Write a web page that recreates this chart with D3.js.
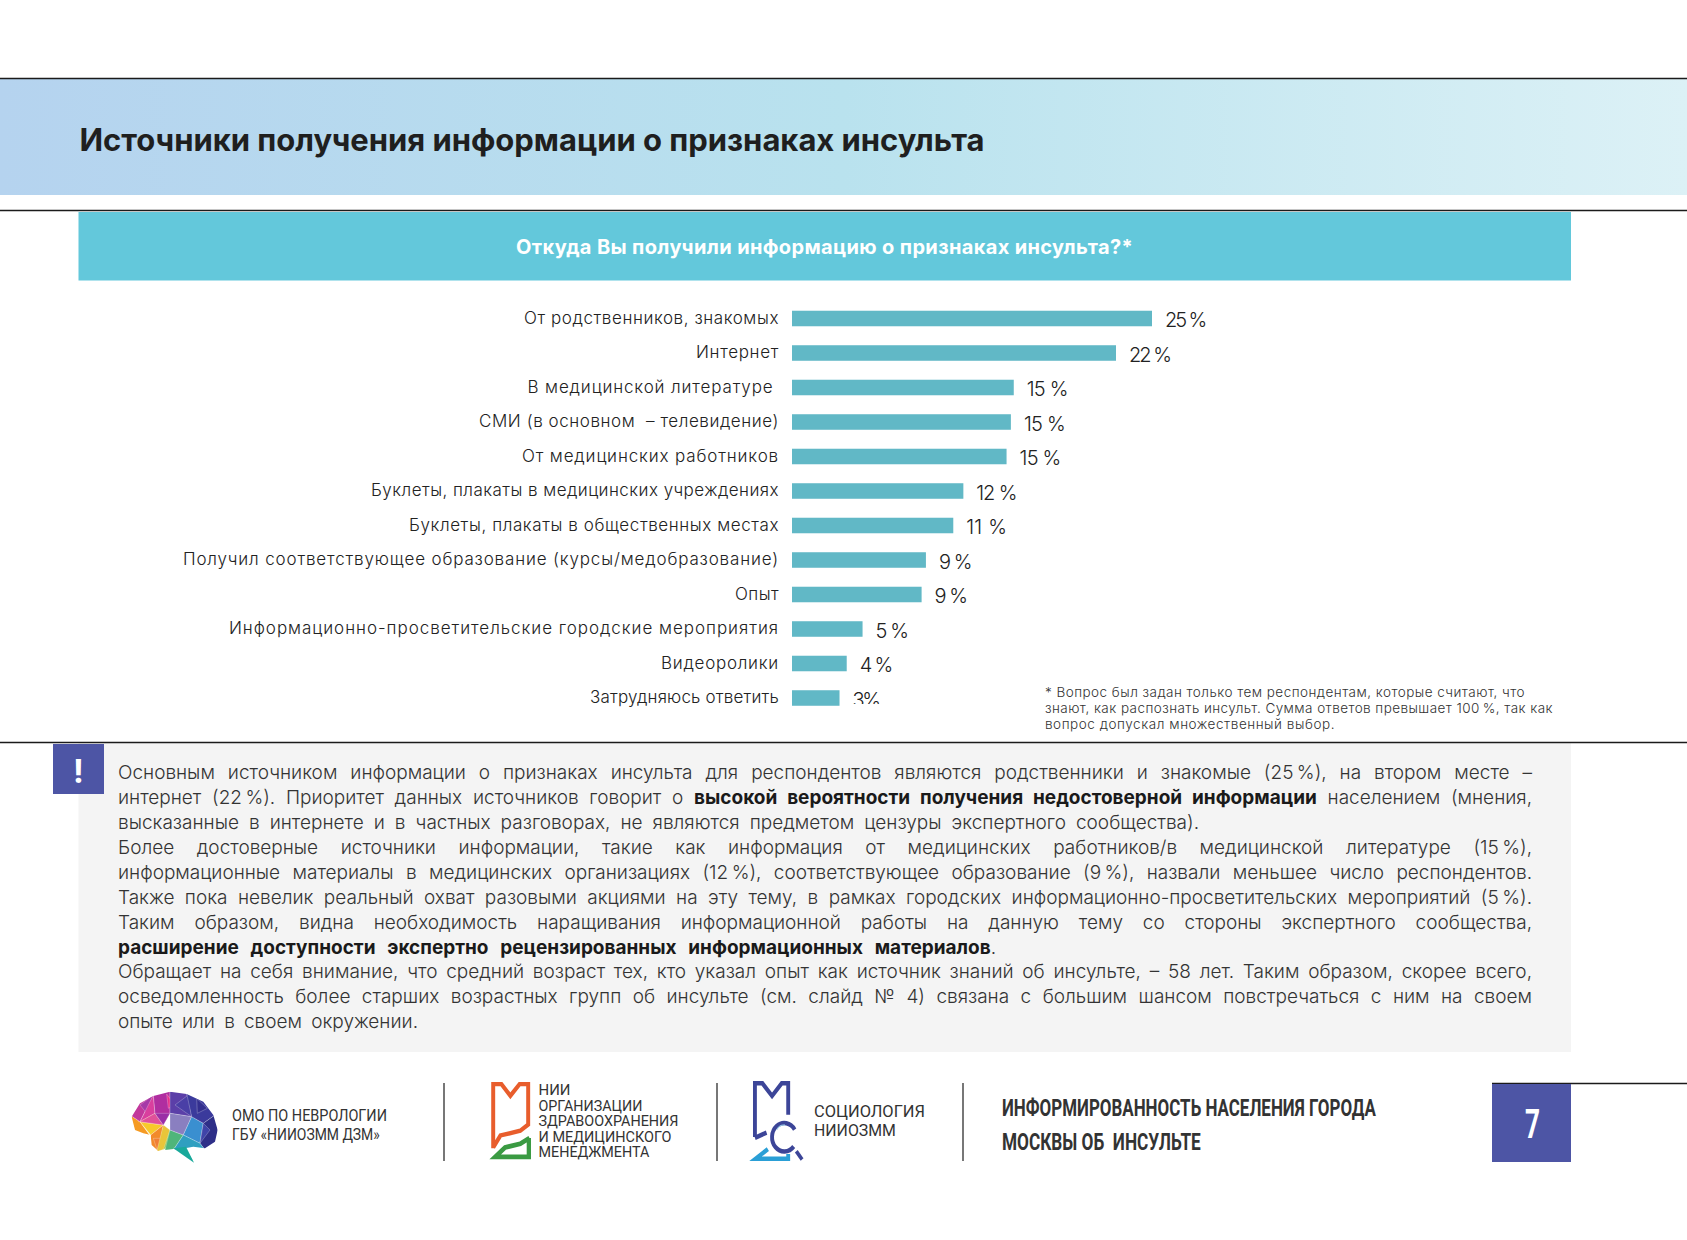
<!DOCTYPE html>
<html lang="ru"><head><meta charset="utf-8">
<script src="https://cdnjs.cloudflare.com/ajax/libs/d3/7.8.5/d3.min.js"></script>
<style>html,body{margin:0;padding:0;background:#fff}svg{display:block}text{font-family:"Inter","Open Sans",sans-serif;white-space:pre}.nr{font-family:"Liberation Sans Narrow","Roboto",sans-serif}</style>
</head><body><div id="c"></div>
<script>
const categories=["От родственников, знакомых","Интернет","В медицинской литературе","СМИ (в основном  – телевидение)","От медицинских работников","Буклеты, плакаты в медицинских учреждениях","Буклеты, плакаты в общественных местах","Получил соответствующее образование (курсы/медобразование)","Опыт","Информационно-просветительские городские мероприятия","Видеоролики","Затрудняюсь ответить"];
const barValues=[25,22.5,15.4,15.2,14.9,11.9,11.2,9.3,9,4.9,3.8,3.3];
const valueLabels=["25 %","22 %","15 %","15 %","15 %","12 %","11 %","9 %","9 %","5 %","4 %","3%"];
const labelWidths=[255,83,246,300,257,408,370,596,44,550,118,189];
const labelRight=[779,779,773.5,779,779,779,779,779,779,779,779,779];
const valueWidths=[40,41,41,41,41,40,41,32,32,32,32,26];
const bodyLines=[
 [["Основным источником информации о признаках инсульта для респондентов являются родственники и знакомые (25\u2009%), на втором месте –",0]],
 [["интернет (22\u2009%). Приоритет данных источников говорит о ",0],["высокой вероятности получения недостоверной информации",1],[" населением (мнения,",0]],
 [["высказанные в интернете и в частных разговорах, не являются предметом цензуры экспертного сообщества).",0]],
 [["Более достоверные источники информации, такие как информация от медицинских работников/в медицинской литературе (15\u2009%),",0]],
 [["информационные материалы в медицинских организациях (12\u2009%), соответствующее образование (9\u2009%), назвали меньшее число респондентов.",0]],
 [["Также пока невелик реальный охват разовыми акциями на эту тему, в рамках городских информационно-просветительских мероприятий (5\u2009%).",0]],
 [["Таким образом, видна необходимость наращивания информационной работы на данную тему со стороны экспертного сообщества,",0]],
 [["расширение доступности экспертно рецензированных информационных материалов",1],[".",0]],
 [["Обращает на себя внимание, что средний возраст тех, кто указал опыт как источник знаний об инсульте, – 58 лет. Таким образом, скорее всего,",0]],
 [["осведомленность более старших возрастных групп об инсульте (см. слайд № 4) связана с большим шансом повстречаться с ним на своем",0]],
 [["опыте или в своем окружении.",0]]];
const bodyWidths=[1414,1414,1081,1414,1414,1414,1414,878,1414,1414,300];
const footnoteLines=["* Вопрос был задан только тем респондентам, которые считают, что","знают, как распознать инсульт. Сумма ответов превышает 100\u2009%, так как","вопрос допускал множественный выбор."];
const footnoteWidths=[480,508,290];

const svg=d3.select("#c").append("svg").attr("width",1687).attr("height",1240);
const defs=svg.append("defs");
const grad=defs.append("linearGradient").attr("id","hdr");
grad.append("stop").attr("offset","0").attr("stop-color","#b5d3ef");
grad.append("stop").attr("offset",".5").attr("stop-color","#b9e2ee");
grad.append("stop").attr("offset","1").attr("stop-color","#dcf1f6");
defs.append("clipPath").attr("id","clipv").append("rect").attr("x",780).attr("y",290).attr("width",500).attr("height",414);

function rect(x,y,w,h,f){return svg.append("rect").attr("x",x).attr("y",y).attr("width",w).attr("height",h).attr("fill",f)}
function hline(x1,x2,y,w,c){svg.append("line").attr("x1",x1).attr("x2",x2).attr("y1",y).attr("y2",y).attr("stroke",c||"#1b1b1b").attr("stroke-width",w||1.6)}
function vline(x,y1,y2){svg.append("line").attr("x1",x).attr("x2",x).attr("y1",y1).attr("y2",y2).attr("stroke","#555").attr("stroke-width",1.6)}
function fit(t,w,mode){
  const n=t.node(), nat=n.getComputedTextLength(), s=n.textContent;
  const spaces=(s.match(/ /g)||[]).length;
  if(nat<w&&spaces&&mode==="word") t.attr("word-spacing",(w-nat)/spaces);
  else t.attr("letter-spacing",(w-nat)/s.length);
  return t;
}
function txt(x,y,s,size,fill,weight,anchor){return svg.append("text").attr("x",x).attr("y",y).text(s).attr("font-size",size).attr("fill",fill||"#222").attr("font-weight",weight||400).attr("text-anchor",anchor||"start")}

rect(0,79,1687,116,"url(#hdr)");
hline(0,1687,78.5);
hline(0,1687,210.5);
rect(78.5,212,1492.5,68.5,"#63c8db");
fit(txt(79.5,150.5,"Источники получения информации о признаках инсульта",31,"#1f1f1f",700),905);
fit(txt(516,254,"Откуда Вы получили информацию о признаках инсульта?*",20,"#fff",700),617);

// chart
const y=d3.scaleBand().domain(categories).range([301.25,715.25]).paddingInner(.55).paddingOuter(.275);
const x=d3.scaleLinear().domain([0,25]).range([792,1152]);
svg.append("g").selectAll("rect").data(categories).join("rect")
  .attr("x",x(0)).attr("y",d=>y(d)).attr("height",y.bandwidth())
  .attr("width",(d,i)=>x(barValues[i])-x(0)).attr("fill","#61b8c6");
svg.append("g").selectAll("text").data(categories).join("text")
  .attr("x",(d,i)=>labelRight[i]).attr("y",d=>y(d)+y.bandwidth()/2+5).attr("text-anchor","end")
  .attr("font-size",17).attr("font-weight",350).attr("fill","#222").text(d=>d)
  .each(function(d,i){fit(d3.select(this),labelWidths[i])});
svg.append("g").attr("clip-path","url(#clipv)").selectAll("text").data(categories).join("text")
  .attr("x",(d,i)=>x(barValues[i])+13).attr("y",d=>y(d)+y.bandwidth()/2+8.5)
  .attr("font-size",20).attr("font-weight",300).attr("fill","#222").text((d,i)=>valueLabels[i])
  .each(function(d,i){fit(d3.select(this),valueWidths[i])});
footnoteLines.forEach((s,i)=>fit(txt(1045,697+i*16,s,13.5,"#333",350),footnoteWidths[i]));

// commentary
rect(78.5,743,1492.5,309,"#f4f4f4");
hline(0,1687,742.5);
rect(53,744,51,50,"#4d55a5");
txt(78.5,783,"!",32,"#fff",700,"middle");
bodyLines.forEach((segs,i)=>{
  const t=svg.append("text").attr("x",118).attr("y",779+i*24.93).attr("font-size",19).attr("font-weight",300).attr("fill","#333");
  segs.forEach(([s,b])=>t.append("tspan").text(s).attr("font-weight",b?700:300).attr("fill",b?"#1a1a1a":"#333"));
  fit(t,bodyWidths[i],"word");
});

// footer rules
vline(444,1083,1161);vline(717,1083,1161);vline(963,1083,1161);
hline(1492,1687,1083.5,1.6);
rect(1492,1084,79,78,"#4d55a5");
// condensed text: squeeze horizontally with a transform so the drawn box is the true one
const narrow=(X,Y,s,size,w,fill,wgt)=>{
  const t=txt(0,0,s,size,fill||"#333",wgt||400).attr("class","nr");
  t.attr("transform",`translate(${X},${Y}) scale(${w/t.node().getComputedTextLength()},1)`);
  return t;
};
narrow(1525,1138,"7",41,15,"#fff",700);
narrow(232,1121,"ОМО ПО НЕВРОЛОГИИ",17,155);
narrow(232,1140,"ГБУ «НИИОЗММ ДЗМ»",17,148);
[["НИИ",32],["ОРГАНИЗАЦИИ",104],["ЗДРАВООХРАНЕНИЯ",140],["И МЕДИЦИНСКОГО",133],["МЕНЕДЖМЕНТА",111]].forEach(([s,w],i)=>narrow(538.5,1095+i*15.6,s,15,w));
narrow(814,1117,"СОЦИОЛОГИЯ",16.5,111);
narrow(814,1136,"НИИОЗММ",16.5,82);
narrow(1002,1116,"ИНФОРМИРОВАННОСТЬ НАСЕЛЕНИЯ ГОРОДА",24,374,"#333",700);
narrow(1002,1150,"МОСКВЫ ОБ  ИНСУЛЬТЕ",24,199,"#333",700);

// brain logo
const brain=svg.append("g").attr("transform","translate(120,1080) scale(.3333)");
const outline="M35,110 L60,70 100,48 150,35 200,42 250,65 280,105 293,150 285,185 255,205 220,200 195,205 222,245 190,210 160,207 115,213 95,195 92,165 70,160 45,150Z";
defs.append("clipPath").attr("id","brainClip").append("path").attr("d",outline);
const facets=[
 ["#f59a23",[[30,105],[45,155],[92,170],[60,125]]],["#f8c92a",[[60,125],[92,165],[130,135]]],
 ["#f6b22c",[[55,125],[130,135],[105,100]]],["#f28a2b",[[92,165],[130,135],[115,215],[90,200]]],
 ["#f07f35",[[100,175],[125,175],[112,212]]],
 ["#e9c53a",[[130,135],[150,150],[140,205],[110,215]]],["#8fc653",[[150,150],[165,175],[130,210]]],
 ["#4fb57a",[[150,150],[190,165],[160,210],[135,210]]],["#19a99b",[[160,205],[222,248],[198,200]]],
 ["#c2389c",[[30,105],[60,65],[100,45],[60,125]]],["#a63aa8",[[60,75],[100,45],[80,100]]],
 ["#d93f9e",[[60,125],[100,45],[105,100]]],["#e0509a",[[60,125],[105,100],[130,135]]],
 ["#b02ea0",[[100,45],[150,30],[150,100],[130,135],[105,100]]],["#9a2ea6",[[105,100],[150,100],[130,135]]],
 ["#e8308a",[[140,42],[165,75],[145,85]]],["#5b3fa8",[[150,30],[200,40],[215,110],[150,100]]],
 ["#4a3fa6",[[165,75],[205,45],[215,110]]],
 ["#8a7fc0",[[150,100],[215,110],[190,165],[150,150]]],["#3a8fd0",[[190,165],[215,110],[250,130],[240,190]]],
 ["#3b3a9c",[[200,40],[250,60],[285,105],[250,130],[215,110]]],["#332f8f",[[230,55],[262,85],[232,100]]],
 ["#2e2f88",[[250,130],[285,105],[298,150],[290,190],[255,210],[240,190]]],["#3f44a8",[[250,130],[270,150],[240,190]]],
 ["#2f9fc0",[[190,165],[240,190],[255,210],[220,205],[195,205],[160,210]]]];
brain.append("g").attr("clip-path","url(#brainClip)").selectAll("polygon").data(facets).join("polygon")
  .attr("points",d=>d[1].join(" ")).attr("fill",d=>d[0]).attr("stroke","#fff").attr("stroke-opacity",.5).attr("stroke-width",1.5);
brain.append("polygon").attr("points","160,205 222,248 198,200").attr("fill","#19a99b");

// institute logos
const g1=svg.append("g").attr("transform","translate(480,1075.4) scale(.33,.364)").attr("fill","none");
g1.append("path").attr("d","M40,200 V24 H65 L92,56 L120,24 H146 V135 L122,152 L62,165 L40,198").attr("stroke","#e85d2c").attr("stroke-width",12);
g1.append("path").attr("d","M150,172 L122,188 L76,198 L46,224 H148 V172").attr("stroke","#3a9a42").attr("stroke-width",13);
const g2=svg.append("g").attr("transform","translate(744.6,1073.5) scale(.323,.374)").attr("fill","none");
g2.append("path").attr("d","M32,170 V26 H55 L85,60 L115,26 H135 V110").attr("stroke","#3c4598").attr("stroke-width",12);
g2.append("path").attr("d","M32,172 L68,158").attr("stroke","#3c4598").attr("stroke-width",12);
g2.append("path").attr("d","M72,202 L34,228 H135 V215").attr("stroke","#2a9fd6").attr("stroke-width",12);
g2.append("path").attr("d","M155,150 A38,38 0 1 0 152,195").attr("stroke","#3c4598").attr("stroke-width",12);
g2.append("path").attr("d","M160,208 L178,230").attr("stroke","#3c4598").attr("stroke-width",11);
g2.append("path").attr("d","M100,150 A25,25 0 0 1 125,138").attr("stroke","#9fd3ec").attr("stroke-width",3);
</script></body></html>
